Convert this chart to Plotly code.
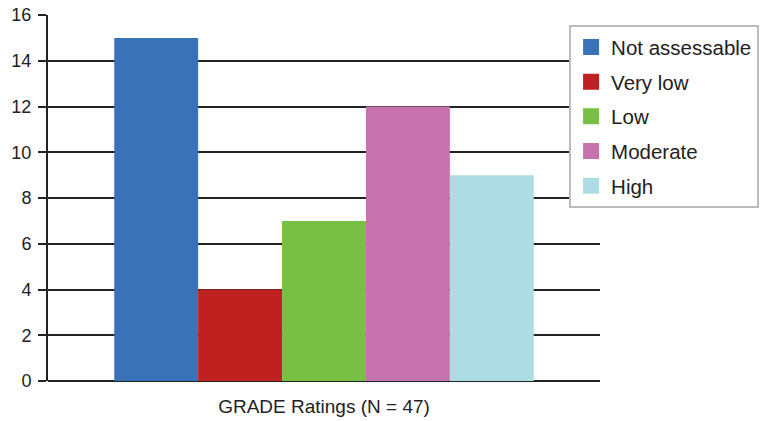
import plotly.graph_objects as go

category = ["GRADE Ratings (N = 47)"]
ratings = ["Not assessable", "Very low", "Low", "Moderate", "High"]
counts = [15, 4, 7, 12, 9]
colors = ["#3a72b8", "#c0201f", "#77c043", "#c672ad", "#aedce3"]
y_ticks = [0, 2, 4, 6, 8, 10, 12, 14, 16]

fig = go.Figure()
for name, val, col in zip(ratings, counts, colors):
    fig.add_trace(go.Bar(x=category, y=[val], name=name, marker_color=col,
                         marker_line_width=0, legendgroup=name, showlegend=False))
for name, col in zip(ratings, colors):
    fig.add_trace(go.Scatter(x=[None], y=[None], mode="markers", name=name,
                             legendgroup=name, showlegend=True,
                             marker=dict(symbol="square", size=16, color=col, line_width=0)))

fig.update_layout(
    width=765, height=421,
    margin=dict(l=48, r=165, t=15, b=40, autoexpand=False),
    paper_bgcolor="white", plot_bgcolor="white",
    barmode="group", bargap=0.24, bargroupgap=0,
    font=dict(family="Liberation Sans, Arial, sans-serif", size=18, color="#222222"),
    showlegend=True,
    legend=dict(x=0.944, y=0.972, xanchor="left", yanchor="top",
                bordercolor="#bbbbbb", borderwidth=2, bgcolor="white",
                font=dict(size=20.5, color="#222222"), tracegroupgap=5,
                itemsizing="trace"),
)
fig.update_xaxes(showline=False, showgrid=False, ticks="", tickfont=dict(size=19),
                 automargin=False, ticklabelstandoff=12)
fig.update_yaxes(range=[0, 16], tickvals=y_ticks, showgrid=True, gridcolor="#222222",
                 gridwidth=1.5, showline=True, linecolor="#222222", linewidth=2,
                 ticks="outside", ticklen=8, tickcolor="#222222", tickwidth=1.5,
                 zeroline=True, zerolinecolor="#222222", zerolinewidth=2,
                 tickfont=dict(size=18), ticklabelstandoff=3, automargin=False)
fig.write_html("out.html", config={"displayModeBar": False},
               post_script="document.body.style.margin='0px';")
